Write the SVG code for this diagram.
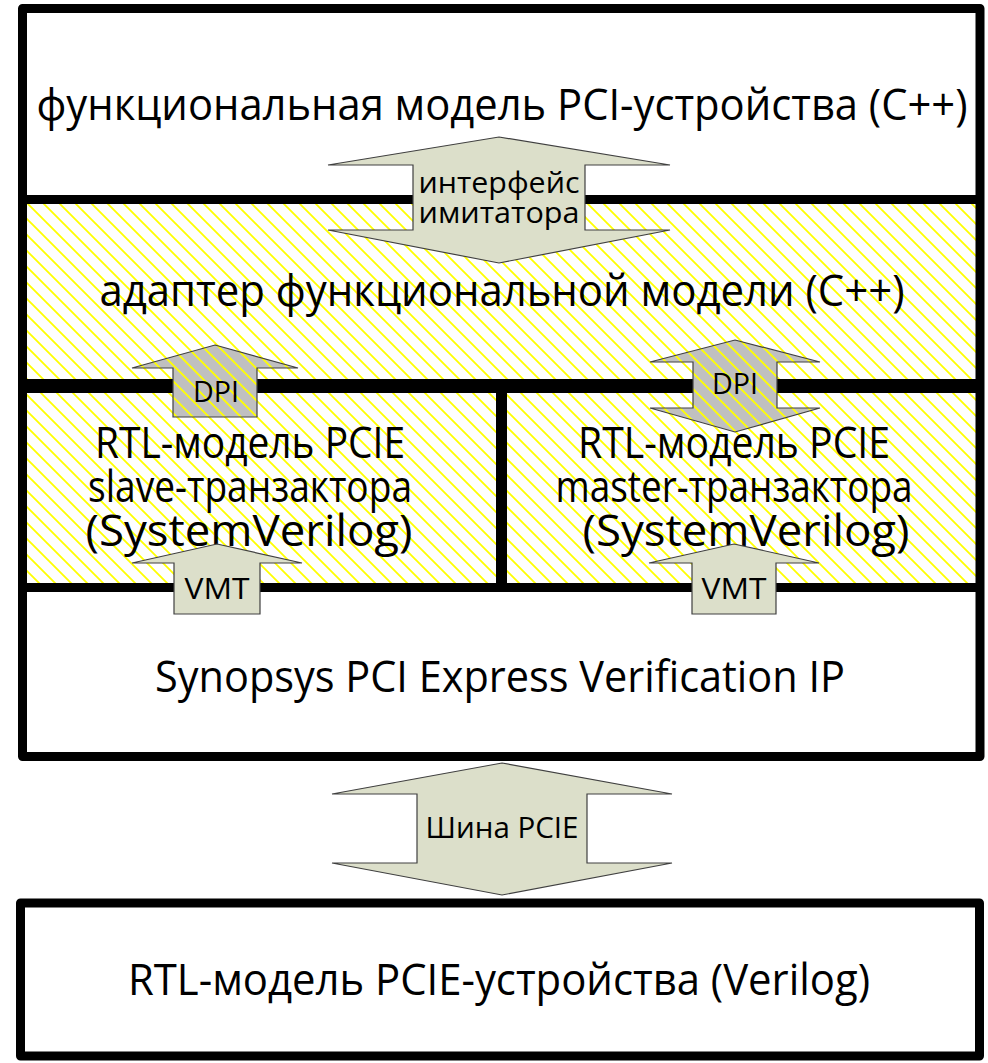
<svg xmlns="http://www.w3.org/2000/svg" width="988" height="1063" viewBox="0 0 988 1063">
<style>
.box{fill:none;stroke:#000;stroke-width:9;stroke-linejoin:round}
.sep{stroke:#000;fill:none}
.arr{fill:#dcdfca;stroke:#404040;stroke-width:1.2}
.dpi{fill:#c0c0c0}
.dpio{fill:none;stroke:#404040;stroke-width:1.2}
.t{font-family:"Open Sans","Noto Sans","DejaVu Sans",sans-serif;fill:#000;text-anchor:middle}
.big{font-size:44px}
.sm{font-size:30px}
</style>
<defs>
<pattern id="hatch" patternUnits="userSpaceOnUse" width="16" height="16">
<path d="M-4,-4 L20,20 M-4,12 L4,20 M12,-4 L20,4" stroke="#ffff00" stroke-width="1.8" fill="none"/>
</pattern>
</defs>
<g id="background">
<rect x="22.5" y="204" width="957" height="176" fill="#fff"/>
<rect x="22.5" y="204" width="957" height="176" fill="url(#hatch)"/>
<rect x="22.5" y="392" width="957" height="192" fill="url(#hatch)"/>
</g>
<g id="frame">
<rect class="box" x="22.5" y="8.5" width="957.5" height="748"/>
<line class="sep" x1="22.5" y1="199.5" x2="980" y2="199.5" stroke-width="9"/>
<line class="sep" x1="22.5" y1="386" x2="980" y2="386" stroke-width="14"/>
<line class="sep" x1="22.5" y1="587.5" x2="980" y2="587.5" stroke-width="9"/>
<line class="sep" x1="501.5" y1="386" x2="501.5" y2="587.5" stroke-width="11"/>
</g>
<g id="node-functional-model">
<text class="t big" x="502" y="120" textLength="931" lengthAdjust="spacingAndGlyphs">функциональная модель PCI-устройства (C++)</text>
</g>
<g id="node-adapter">
<text class="t big" x="502" y="306" textLength="805" lengthAdjust="spacingAndGlyphs">адаптер функциональной модели (C++)</text>
</g>
<g id="node-slave">
<text class="t big" x="250" y="458" textLength="310" lengthAdjust="spacingAndGlyphs">RTL-модель PCIE</text>
<text class="t big" x="250" y="502" textLength="324" lengthAdjust="spacingAndGlyphs">slave-транзактора</text>
<text class="t big" x="249" y="546" textLength="327" lengthAdjust="spacingAndGlyphs">(SystemVerilog)</text>
</g>
<g id="node-master">
<text class="t big" x="734" y="458" textLength="312" lengthAdjust="spacingAndGlyphs">RTL-модель PCIE</text>
<text class="t big" x="734" y="502" textLength="357" lengthAdjust="spacingAndGlyphs">master-транзактора</text>
<text class="t big" x="746" y="546" textLength="327" lengthAdjust="spacingAndGlyphs">(SystemVerilog)</text>
</g>
<g id="node-synopsys">
<text class="t big" x="500" y="692" textLength="690" lengthAdjust="spacingAndGlyphs">Synopsys PCI Express Verification IP</text>
</g>
<g id="node-rtl-device">
<rect class="box" x="20.5" y="903" width="959" height="153" fill="#fff" stroke-width="10"/>
<text class="t big" x="499" y="995" textLength="742" lengthAdjust="spacingAndGlyphs">RTL-модель PCIE-устройства (Verilog)</text>
</g>
<g id="connectors">
<g id="conn-interface">
<path class="arr" d="M499,137 L670,165 L585,165 L585,230 L670,230 L499,263 L328,230 L413,230 L413,165 L328,165 Z"/>
<text class="t sm" x="499" y="193" textLength="161" lengthAdjust="spacingAndGlyphs">интерфейс</text>
<text class="t sm" x="499" y="223" textLength="161" lengthAdjust="spacingAndGlyphs">имитатора</text>
</g>
<g id="conn-dpi-left">
<path class="dpi" d="M215,345 L298,368 L257,368 L257,417 L173,417 L173,368 L132,368 Z"/>
<path d="M215,345 L298,368 L257,368 L257,417 L173,417 L173,368 L132,368 Z" fill="url(#hatch)"/>
<path class="dpio" d="M215,345 L298,368 L257,368 L257,417 L173,417 L173,368 L132,368 Z"/>
<text class="t sm" x="216" y="402" textLength="46" lengthAdjust="spacingAndGlyphs">DPI</text>
</g>
<g id="conn-dpi-right">
<path class="dpi" d="M735,340 L820,362 L777,362 L777,408 L820,408 L735,432 L650,408 L693,408 L693,362 L650,362 Z"/>
<path d="M735,340 L820,362 L777,362 L777,408 L820,408 L735,432 L650,408 L693,408 L693,362 L650,362 Z" fill="url(#hatch)"/>
<path class="dpio" d="M735,340 L820,362 L777,362 L777,408 L820,408 L735,432 L650,408 L693,408 L693,362 L650,362 Z"/>
<text class="t sm" x="735" y="394" textLength="46" lengthAdjust="spacingAndGlyphs">DPI</text>
</g>
<g id="conn-vmt-left">
<path class="arr" d="M217,544 L302,563 L260,563 L260,614 L174,614 L174,563 L132,563 Z"/>
<text class="t sm" x="217" y="599" textLength="65" lengthAdjust="spacingAndGlyphs">VMT</text>
</g>
<g id="conn-vmt-right">
<path class="arr" d="M734,544 L819,563 L776,563 L776,614 L692,614 L692,563 L649,563 Z"/>
<text class="t sm" x="734" y="599" textLength="65" lengthAdjust="spacingAndGlyphs">VMT</text>
</g>
<g id="conn-bus">
<path class="arr" d="M502,763 L672,794 L587,794 L587,863 L672,863 L502,895 L332,863 L417,863 L417,794 L332,794 Z"/>
<text class="t sm" x="502" y="838" textLength="153" lengthAdjust="spacingAndGlyphs">Шина PCIE</text>
</g>
</g>
</svg>
